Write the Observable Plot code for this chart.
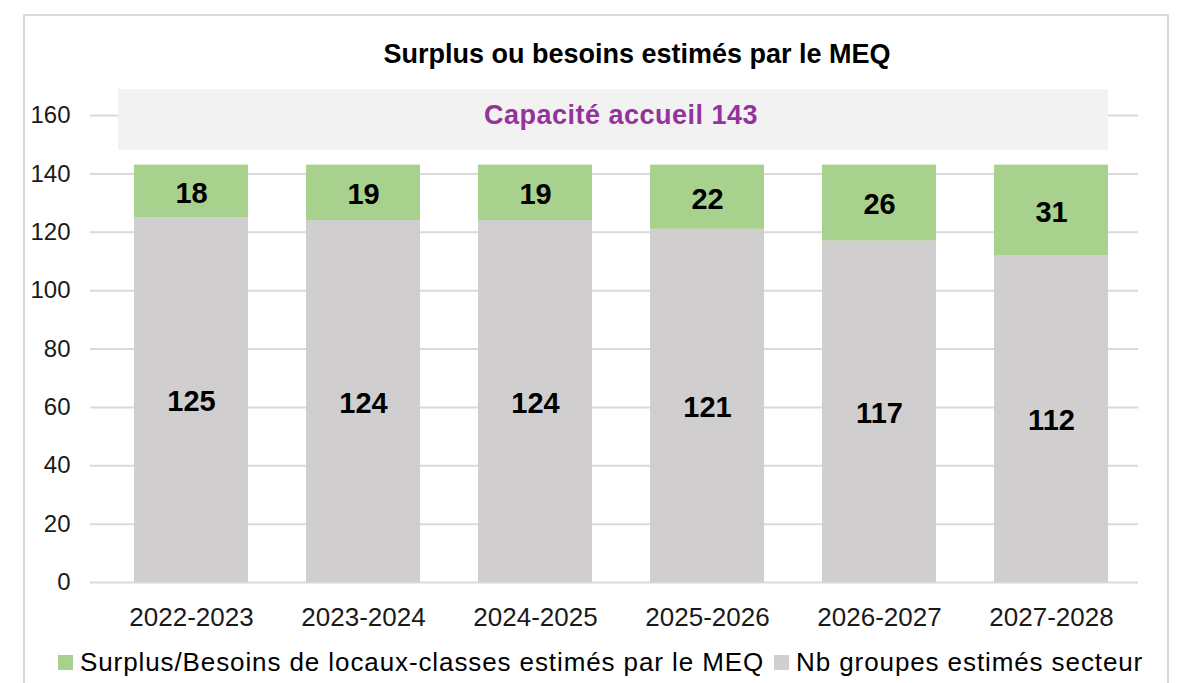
<!DOCTYPE html>
<html>
<head>
<meta charset="utf-8">
<script src="https://cdn.jsdelivr.net/npm/d3@7"></script>
<script src="https://cdn.jsdelivr.net/npm/@observablehq/plot@0.6"></script>
<style>
  html, body { margin: 0; padding: 0; background: #fff; }
  body { width: 1184px; height: 683px; overflow: hidden; position: relative;
         font-family: "Liberation Sans", Arial, sans-serif; }
  #frame { position: absolute; left: 23px; top: 14px; width: 1146px; height: 720px;
           border: 2px solid #d9d9d9; box-sizing: border-box; }
  #title { position: absolute; left: 0; width: 1274px; top: 41px; text-align: center;
           font-size: 27px; line-height: 27px; font-weight: bold; color: #000; }
  #chart { position: absolute; left: 0; top: 0; }
  #band { position: absolute; left: 118px; top: 89px; width: 990px; height: 61px;
          background: #f2f2f2; color: #93349a; font-weight: bold; font-size: 27px;
          line-height: 27px; letter-spacing: 0.5px; box-sizing: border-box;
          padding-bottom: 8px; padding-left: 16px;
          display: flex; align-items: center; justify-content: center; }
  #legend { position: absolute; left: 58px; top: 649px; font-size: 26px; line-height: 26px;
            letter-spacing: 0.9px; color: #000; white-space: nowrap; display: flex; align-items: center; }
  .sw { display: inline-block; width: 15px; height: 15px; margin-right: 7px; }
</style>
</head>
<body>
<div id="frame"></div>
<div id="chart"></div>
<div id="title"></div>
<div id="band"></div>
<div id="legend"></div>
<script>
const titleText = "Surplus ou besoins estimés par le MEQ";
const capacityLabel = "Capacité accueil";
const capacity = 143;
const years = ["2022-2023", "2023-2024", "2024-2025", "2025-2026", "2026-2027", "2027-2028"];
const groupes = [125, 124, 124, 121, 117, 112];
const surplus = [18, 19, 19, 22, 26, 31];
const seriesNames = ["Surplus/Besoins de locaux-classes estimés par le MEQ", "Nb groupes estimés secteur"];
const seriesColors = ["#a9d18e", "#d0cece"];
const yTicks = [0, 20, 40, 60, 80, 100, 120, 140, 160];

const rows = [];
years.forEach((yr, i) => {
  rows.push({year: yr, series: seriesNames[1], value: groupes[i], base: 0});
  rows.push({year: yr, series: seriesNames[0], value: surplus[i], base: groupes[i]});
});
rows.forEach(r => r.mid = r.base + r.value / 2);

const font = '"Liberation Sans", Arial, sans-serif';
const plot = Plot.plot({
  width: 1184,
  height: 683,
  marginLeft: 90,
  marginRight: 46,
  marginTop: 115,
  marginBottom: 101,
  style: {fontFamily: font, fontSize: "25px", color: "#1a1a1a", background: "transparent"},
  x: {domain: years, paddingInner: 0.34, paddingOuter: 0.17, insetLeft: 14, label: null},
  y: {domain: [0, 160], label: null},
  color: {domain: seriesNames, range: seriesColors},
  marks: [
    Plot.ruleY(yTicks, {stroke: "#d9d9d9", strokeWidth: 2}),
    Plot.barY(rows, Plot.stackY({x: "year", y: "value", fill: "series", order: seriesNames.slice().reverse()})),
    Plot.text(rows, {x: "year", y: "mid", text: d => String(d.value), fontWeight: "bold", fontSize: 29, fill: "#000", dy: 2}),
    Plot.axisY({ticks: yTicks, tickSize: 0, tickPadding: 20, fontSize: 24, fill: "#1a1a1a"}),
    Plot.axisX({tickSize: 0, tickPadding: 25, fontSize: 26, fill: "#1a1a1a"})
  ]
});
document.getElementById("chart").appendChild(plot);

document.getElementById("title").textContent = titleText;
document.getElementById("band").textContent = capacityLabel + " " + capacity;

const legend = document.getElementById("legend");
seriesNames.forEach((name, i) => {
  const sw = document.createElement("span");
  sw.className = "sw";
  sw.style.background = seriesColors[i];
  const t = document.createElement("span");
  t.textContent = name;
  t.style.marginRight = "10px";
  legend.appendChild(sw);
  legend.appendChild(t);
});
</script>
</body>
</html>
